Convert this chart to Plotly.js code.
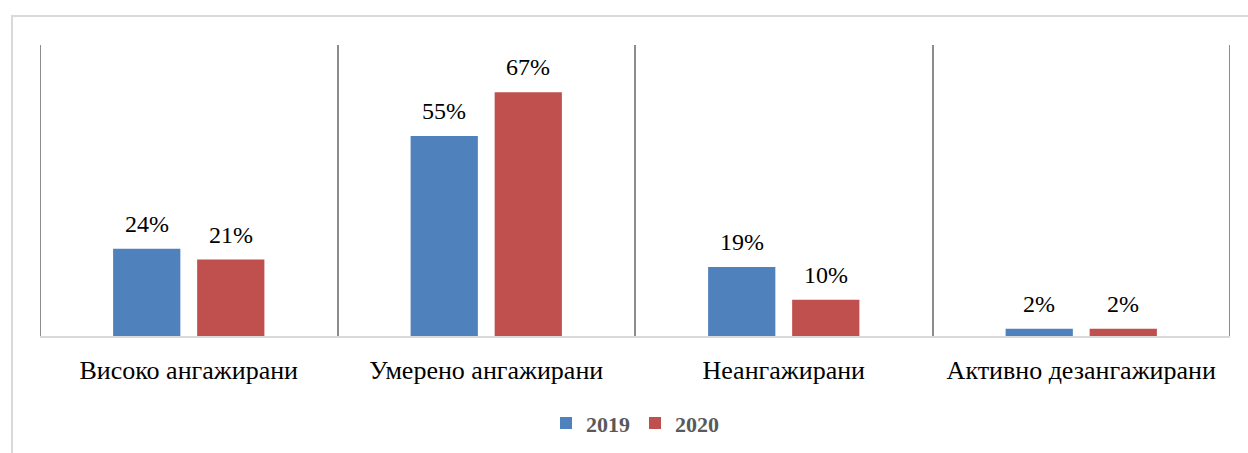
<!DOCTYPE html>
<html><head><meta charset="utf-8">
<script src="https://cdn.plot.ly/plotly-3.0.1.min.js"></script>
<style>
html,body{margin:0;padding:0;background:#fff;}
#frame{position:absolute;left:11px;top:15px;width:1300px;height:500px;border-left:2px solid #d9d9d9;border-top:2px solid #d9d9d9;box-sizing:border-box;}
#chart{position:absolute;left:0;top:0;width:1248px;height:453px;}
</style></head>
<body>
<div id="frame"></div>
<div id="chart"></div>
<script>
const categories = ["Високо ангажирани", "Умерено ангажирани", "Неангажирани", "Активно дезангажирани"];
const seriesNames = ["2019", "2020"];
const values2019 = [24, 55, 19, 2];
const values2020 = [21, 67, 10, 2];

const colors = ["#4F81BD", "#C0504D"];
const serif = "Times New Roman, Liberation Serif, DejaVu Serif, serif";

const traces = [values2019, values2020].map((v, i) => ({
  type: "bar", name: seriesNames[i], x: categories, y: v,
  marker: {color: colors[i]}, hoverinfo: "none"
}));

const annotations = [];
[values2019, values2020].forEach((v, i) => {
  v.forEach((val, j) => {
    annotations.push({
      x: categories[j], y: val, xref: "x", yref: "y",
      text: val + "%", showarrow: false, yanchor: "bottom",
      xshift: (i === 0 ? -42 : 42), yshift: 10,
      font: {family: serif, size: 24, color: "#000", weight: "normal"}
    });
  });
});

const edgeShapes = [-0.5, 3.5].map(xv => ({
  type: "line", xref: "x", yref: "paper", x0: xv, x1: xv, y0: 0, y1: 1,
  line: {color: "#8c8c8c", width: 2}, layer: "below"
}));

const layout = {
  width: 1248, height: 453,
  margin: {l: 40, r: 18, t: 45, b: 117, autoexpand: false},
  font: {family: serif},
  paper_bgcolor: "rgba(0,0,0,0)", plot_bgcolor: "rgba(0,0,0,0)",
  barmode: "group", bargap: 0.435, bargroupgap: 0.2,
  showlegend: true,
  legend: {orientation: "h", x: 0.5, xanchor: "center", y: -0.3, yanchor: "middle",
    font: {family: serif, size: 22, color: "#595959", weight: "bold"}, itemwidth: 30},
  xaxis: {
    type: "category", tickson: "boundaries", showgrid: true, gridcolor: "#8c8c8c", gridwidth: 2,
    ticks: "", showline: true, linecolor: "#d9d9d9", linewidth: 2, automargin: false,
    tickfont: {family: serif, size: 26, color: "#000", weight: "normal"}, ticklabelstandoff: 10,
    range: [-0.5, 3.5], fixedrange: true
  },
  yaxis: {range: [0, 80], showgrid: false, zeroline: false, showticklabels: false, ticks: "", fixedrange: true, automargin: false},
  shapes: edgeShapes,
  annotations: annotations
};
Plotly.newPlot("chart", traces, layout, {staticPlot: true, displayModeBar: false});
</script>
</body></html>
